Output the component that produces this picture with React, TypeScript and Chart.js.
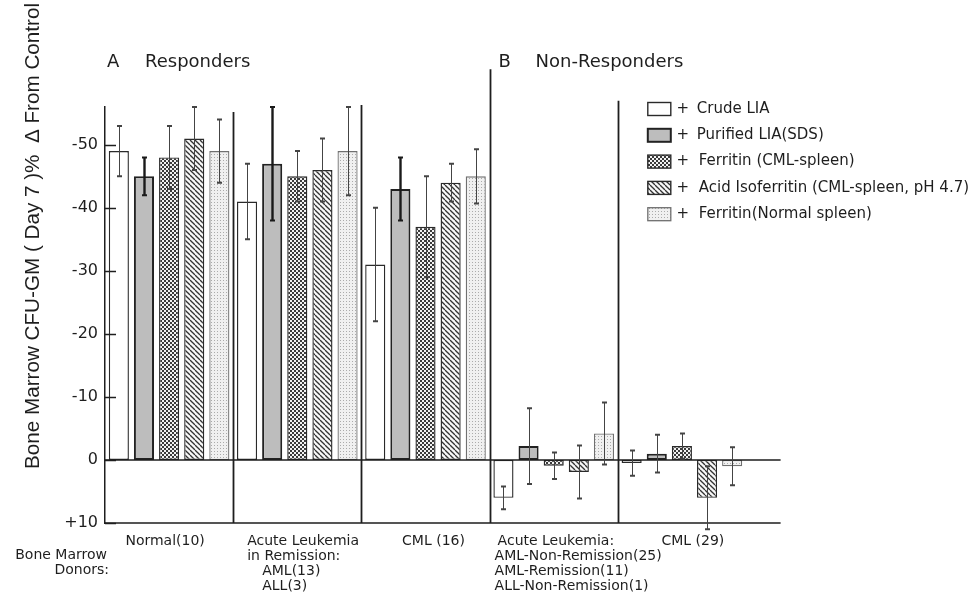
import React, { useEffect, useRef } from "react";
import { Chart, registerables } from "chart.js";

Chart.register(...registerables);

// ---------------- data ----------------
const categories = ["Normal", "AL in Remission", "CML (R)", "Acute Leukemia (NR)", "CML (NR)"];
const categoryLabelLines: string[][] = [
  ["Normal(10)"],
  ["Acute Leukemia", "in Remission:", "AML(13)", "ALL(3)"],
  ["CML (16)"],
  ["Acute Leukemia:", "AML-Non-Remission(25)", "AML-Remission(11)", "ALL-Non-Remission(1)"],
  ["CML (29)"],
];
const donorLabelLines = ["Bone Marrow", "Donors:"];
const panelLetters = ["A", "B"];
const panelTitles = ["Responders", "Non-Responders"];
const yAxisTitle = "Bone Marrow CFU-GM ( Day 7 )%  \u0394 From Control";

const seriesNames = [
  "Crude LIA",
  "Purified LIA(SDS)",
  "Ferritin (CML-spleen)",
  "Acid Isoferritin (CML-spleen, pH 4.7)",
  "Ferritin(Normal spleen)",
];

// % change from control (negative = suppression)
const crudeLIA = [-49, -41, -31, 6, 0.5];
const crudeLIAErr = [4, 6, 9, 1.8, 2];
const purifiedLIA = [-45, -47, -43, -2.2, -1];
const purifiedLIAErr = [3, 9, 5, 6, 3];
const ferritinCML = [-48, -45, -37, 0.9, -2.2];
const ferritinCMLErr = [5, 4, 8, 2.1, 2];
const acidIsoferritin = [-51, -46, -44, 1.9, 6];
const acidIsoferritinErr = [5, 5, 3, 4.2, 5];
const ferritinNormal = [-49, -49, -45, -4.2, 1];
const ferritinNormalErr = [5, 7, 4.3, 4.9, 3];

const yTicks = [-50, -40, -30, -20, -10, 0, 10];

// ---------------- helpers ----------------
const INK = "#1e1e1e";
const SANS = "'DejaVu Sans', 'Liberation Sans', sans-serif";

function fmtTick(v: number): string {
  if (v < 0) return "-" + Math.abs(v);
  if (v > 0) return "+" + v;
  return "0";
}

function makePattern(kind: string): CanvasPattern | string {
  const c = document.createElement("canvas");
  const g = c.getContext("2d");
  if (!g) return "#ccc";
  if (kind === "check") {
    c.width = 4;
    c.height = 4;
    g.fillStyle = "#f2f2f2";
    g.fillRect(0, 0, 4, 4);
    g.fillStyle = "#3a3a3a";
    g.fillRect(0, 0, 2, 2);
    g.fillRect(2, 2, 2, 2);
  } else if (kind === "diag") {
    c.width = 5;
    c.height = 5;
    g.fillStyle = "#f8f8f8";
    g.fillRect(0, 0, 5, 5);
    g.strokeStyle = "#333";
    g.lineWidth = 1.3;
    for (const o of [-5, 0, 5]) {
      g.beginPath();
      g.moveTo(o, 0);
      g.lineTo(o + 5, 5);
      g.stroke();
    }
  } else if (kind === "stipple") {
    c.width = 3;
    c.height = 3;
    g.fillStyle = "#f0f0f0";
    g.fillRect(0, 0, 3, 3);
    g.fillStyle = "#ababab";
    g.fillRect(1, 1, 1, 1);
  }
  return g.createPattern(c, "repeat") || "#ccc";
}

const overlayPlugin = {
  id: "overlay",
  afterDatasetsDraw(chart: any) {
    const { ctx, chartArea: ca, scales } = chart;
    const x = scales.x;
    const y = scales.y;
    const n = chart.data.labels.length;
    const groupW = (ca.right - ca.left) / n;
    const ext = ca.right + groupW * 0.27;
    ctx.save();
    ctx.strokeStyle = INK;
    ctx.lineCap = "butt";

    // zero line and bottom line
    const y0 = y.getPixelForValue(0);
    ctx.lineWidth = 1.5;
    ctx.beginPath();
    ctx.moveTo(ca.left, y0);
    ctx.lineTo(ext, y0);
    ctx.moveTo(ca.left, ca.bottom);
    ctx.lineTo(ext, ca.bottom);
    ctx.stroke();

    // group dividers
    const dividerTops = [-55.2, -56.3, -62, -57];
    ctx.lineWidth = 1.8;
    for (let i = 0; i < n - 1; i++) {
      const px = Math.round((x.getPixelForValue(i) + x.getPixelForValue(i + 1)) / 2) + 0.5;
      ctx.beginPath();
      ctx.moveTo(px, y.getPixelForValue(dividerTops[i]));
      ctx.lineTo(px, ca.bottom);
      ctx.stroke();
    }

    // inward tick marks
    ctx.lineWidth = 1.5;
    y.ticks.forEach((t: any) => {
      const py = Math.round(y.getPixelForValue(t.value)) + 0.5;
      ctx.beginPath();
      ctx.moveTo(ca.left, py);
      ctx.lineTo(ca.left + 11, py);
      ctx.stroke();
    });

    // error bars (heavier for the purified series in panel A)
    chart.data.datasets.forEach((ds: any, di: number) => {
      const meta = chart.getDatasetMeta(di);
      meta.data.forEach((bar: any, i: number) => {
        const v = ds.data[i];
        const e = ds.errors[i];
        const heavy = ds.heavyError && i < 3;
        const cx = Math.round(bar.x) + 0.5;
        const ya = y.getPixelForValue(v - e);
        const yb = y.getPixelForValue(v + e);
        ctx.strokeStyle = heavy ? "#1a1a1a" : "#444";
        ctx.lineWidth = heavy ? 2.4 : 1;
        ctx.beginPath();
        ctx.moveTo(cx, ya);
        ctx.lineTo(cx, yb);
        ctx.stroke();
        ctx.lineWidth = 2;
        ctx.beginPath();
        ctx.moveTo(cx - 2.5, ya);
        ctx.lineTo(cx + 2.5, ya);
        ctx.moveTo(cx - 2.5, yb);
        ctx.lineTo(cx + 2.5, yb);
        ctx.stroke();
      });
    });
    ctx.restore();
  },
  afterDraw(chart: any) {
    const { ctx, chartArea: ca, scales } = chart;
    const x = scales.x;
    const n = chart.data.labels.length;
    const groupW = (ca.right - ca.left) / n;
    ctx.save();
    ctx.fillStyle = INK;

    // panel headings
    const divAB = (x.getPixelForValue(2) + x.getPixelForValue(3)) / 2;
    ctx.font = `18px ${SANS}`;
    ctx.textBaseline = "middle";
    ctx.textAlign = "left";
    const headY = ca.top - 45;
    ctx.fillText(panelLetters[0], ca.left + 2, headY);
    ctx.fillText(panelTitles[0], ca.left + 40, headY);
    ctx.fillText(panelLetters[1], divAB + 9, headY);
    ctx.fillText(panelTitles[1], divAB + 46, headY);

    // y axis title (rotated)
    ctx.save();
    ctx.font = `20px 'Liberation Sans', Arial, sans-serif`;
    const w = ctx.measureText(yAxisTitle).width;
    const target = 466;
    ctx.translate(33, 236);
    ctx.rotate(-Math.PI / 2);
    ctx.scale(Math.min(1.2, target / w), 1);
    ctx.textAlign = "center";
    ctx.textBaseline = "middle";
    ctx.fillText(yAxisTitle, 0, 0);
    ctx.restore();

    // category labels
    const layout = [
      { align: "center", dx: -4, indent: [0] },
      { align: "left", dx: 14, indent: [0, 0, 15, 15] },
      { align: "center", dx: 8, indent: [0] },
      { align: "left", dx: 8, indent: [0, -3, -3, -3] },
      { align: "center", dx: 11, indent: [0] },
    ];
    ctx.font = `14px ${SANS}`;
    ctx.textBaseline = "middle";
    const lineH = 15;
    const firstY = ca.bottom + 18;
    categoryLabelLines.forEach((lines, i) => {
      const L = layout[i];
      const center = x.getPixelForValue(i);
      const left = center - groupW / 2;
      lines.forEach((txt, k) => {
        const yy = firstY + k * lineH;
        if (L.align === "center") {
          ctx.textAlign = "center";
          ctx.fillText(txt, center + L.dx, yy);
        } else {
          ctx.textAlign = "left";
          ctx.fillText(txt, left + L.dx + (L.indent[k] || 0), yy);
        }
      });
    });
    ctx.textAlign = "right";
    ctx.fillText(donorLabelLines[0], ca.left + 2, firstY + 14);
    ctx.fillText(donorLabelLines[1], ca.left + 4, firstY + 29);

    // legend
    const divDE = (x.getPixelForValue(3) + x.getPixelForValue(4)) / 2;
    const boxX = divDE + 30;
    const legTop = ca.top + 2;
    ctx.font = `15px ${SANS}`;
    chart.data.datasets.forEach((ds: any, di: number) => {
      const cy = legTop + di * 26.3;
      ctx.fillStyle = ds.backgroundColor;
      ctx.fillRect(boxX, cy - 6.5, 23, 13);
      ctx.strokeStyle = ds.borderColor;
      ctx.lineWidth = ds.borderWidth;
      ctx.strokeRect(boxX, cy - 6.5, 23, 13);
      ctx.fillStyle = INK;
      ctx.textAlign = "center";
      ctx.fillText("+", boxX + 35, cy);
      ctx.textAlign = "left";
      ctx.fillText(ds.label, boxX + 49 + (di >= 2 ? 2 : 0), cy);
    });
    ctx.restore();
  },
};

export default function App() {
  const canvasRef = useRef<HTMLCanvasElement | null>(null);

  useEffect(() => {
    const canvas = canvasRef.current;
    if (!canvas) return;
    const fills = [
      "#ffffff",
      "#bdbdbd",
      makePattern("check"),
      makePattern("diag"),
      makePattern("stipple"),
    ];
    const values = [crudeLIA, purifiedLIA, ferritinCML, acidIsoferritin, ferritinNormal];
    const errs = [crudeLIAErr, purifiedLIAErr, ferritinCMLErr, acidIsoferritinErr, ferritinNormalErr];
    const borderColors = ["#2a2a2a", "#222222", "#2a2a2a", "#2a2a2a", "#707070"];
    const borderWidths = [1.4, 2, 1.4, 1.4, 1.3];

    const datasets = seriesNames.map((name, i) => ({
      label: name,
      data: values[i],
      errors: errs[i],
      heavyError: i === 1,
      backgroundColor: fills[i],
      borderColor: borderColors[i],
      borderWidth: borderWidths[i],
      borderSkipped: false,
      categoryPercentage: 0.98,
      barPercentage: 0.8,
    }));

    const chart = new Chart(canvas, {
      type: "bar",
      data: { labels: categories, datasets: datasets as any },
      options: {
        animation: false,
        responsive: false,
        devicePixelRatio: 1,
        layout: { padding: { top: 107, bottom: 72, right: 230, left: 0 } },
        plugins: {
          legend: { display: false },
          tooltip: { enabled: false },
          title: { display: false },
        },
        scales: {
          x: {
            type: "category",
            display: false,
            offset: true,
            grid: { display: false },
          },
          y: {
            type: "linear",
            min: -56,
            max: 10,
            reverse: true,
            afterFit: (s: any) => {
              s.width = 105;
            },
            afterBuildTicks: (s: any) => {
              s.ticks = yTicks.map((v) => ({ value: v }));
            },
            grid: { display: false, drawTicks: false },
            border: { display: true, color: INK, width: 1.5 },
            ticks: {
              padding: 7,
              color: INK,
              font: { family: "'DejaVu Sans', sans-serif", size: 16 },
              callback: (v: any) => fmtTick(Number(v)),
            },
          },
        },
      } as any,
      plugins: [overlayPlugin],
    });
    return () => chart.destroy();
  }, []);

  return (
    <div style={{ position: "fixed", left: 0, top: 0, width: 976, height: 595, background: "#fff" }}>
      <canvas ref={canvasRef} width={976} height={595} style={{ display: "block", width: 976, height: 595 }} />
    </div>
  );
}
